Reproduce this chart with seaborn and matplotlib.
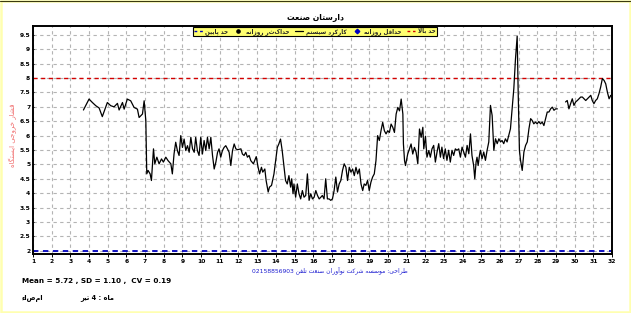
import re
import numpy as np
import pandas as pd
import matplotlib
matplotlib.use("Agg")
import matplotlib.pyplot as plt
from matplotlib.lines import Line2D
from matplotlib.ticker import MultipleLocator, FuncFormatter
import seaborn as sns

# ---------------- data ----------------
days_a = [3.70, 4.00, 4.18, 4.36, 4.54, 4.71, 4.89, 4.98, 5.16, 5.34, 5.52, 5.61, 5.79, 5.88,
          6.05, 6.23, 6.41, 6.59, 6.68, 6.86, 6.95, 7.04, 7.09, 7.16, 7.27, 7.34, 7.45, 7.52,
          7.63, 7.75, 7.88, 7.98, 8.11, 8.23, 8.38, 8.46, 8.55, 8.64, 8.73, 8.82, 8.91, 9.00,
          9.09, 9.18, 9.27, 9.36, 9.45, 9.54, 9.63, 9.71, 9.80, 9.89, 9.98, 10.07, 10.16,
          10.25, 10.34, 10.43, 10.52, 10.61, 10.70, 10.79, 10.88, 10.96, 11.05, 11.14, 11.23,
          11.32, 11.41, 11.50, 11.59, 11.68, 11.77, 11.86, 11.95, 12.13, 12.21, 12.30, 12.39,
          12.48, 12.57, 12.66, 12.80, 12.95, 13.05, 13.13, 13.23, 13.30, 13.41, 13.48, 13.59,
          13.66, 13.77, 13.90, 13.99, 14.08, 14.16, 14.25, 14.34, 14.43, 14.52, 14.61, 14.70,
          14.79, 14.85, 14.92, 14.97, 15.06, 15.15, 15.24, 15.33, 15.42, 15.51, 15.60, 15.69,
          15.78, 15.87, 15.96, 16.05, 16.14, 16.23, 16.32, 16.41, 16.49, 16.58, 16.67, 16.76,
          16.85, 16.94, 17.03, 17.12, 17.21, 17.30, 17.39, 17.48, 17.57, 17.66, 17.75, 17.84,
          17.93, 18.02, 18.11, 18.20, 18.29, 18.38, 18.47, 18.56, 18.65, 18.73, 18.82, 18.91,
          19.00, 19.09, 19.18, 19.27, 19.36, 19.45, 19.54, 19.63, 19.72, 19.81, 19.90, 19.99,
          20.08, 20.17, 20.26, 20.35, 20.44, 20.53, 20.62, 20.71, 20.80, 20.83, 20.89, 20.94,
          21.06, 21.15, 21.24, 21.33, 21.42, 21.51, 21.60, 21.69, 21.78, 21.87, 21.92, 22.01,
          22.09, 22.19, 22.27, 22.36, 22.45, 22.54, 22.63, 22.72, 22.81, 22.89, 22.98, 23.07,
          23.16, 23.25, 23.34, 23.43, 23.52, 23.61, 23.70, 23.79, 23.88, 23.97, 24.06, 24.15,
          24.24, 24.33, 24.42, 24.50, 24.59, 24.65, 24.72, 24.77, 24.83, 24.90, 24.95, 25.04,
          25.13, 25.22, 25.31, 25.40, 25.49, 25.58, 25.67, 25.76, 25.85, 25.94, 26.03, 26.11,
          26.20, 26.29, 26.38, 26.47, 26.56, 26.65, 26.74, 26.83, 26.92, 26.97, 27.04, 27.10,
          27.19, 27.28, 27.37, 27.46, 27.55, 27.64, 27.72, 27.81, 27.90, 27.99, 28.08, 28.17,
          28.26, 28.35, 28.44, 28.53, 28.62, 28.71, 28.80, 28.89, 28.98, 29.07]
vals_a = [6.89, 7.27, 7.15, 7.04, 6.96, 6.66, 6.98, 7.15, 7.04, 7.00, 7.12, 6.89, 7.15, 6.92,
          7.27, 7.21, 6.98, 6.92, 6.63, 6.75, 7.21, 6.52, 4.67, 4.79, 4.67, 4.44, 5.54, 5.02,
          5.25, 5.02, 5.19, 5.08, 5.25, 5.13, 5.02, 4.67, 5.36, 5.77, 5.48, 5.31, 6.00, 5.59,
          5.88, 5.48, 5.65, 5.42, 5.94, 5.54, 5.42, 5.94, 5.48, 5.31, 5.94, 5.36, 5.83,
          5.48, 5.94, 5.54, 5.94, 5.31, 4.84, 5.08, 5.42, 5.54, 5.25, 5.48, 5.59,
          5.65, 5.54, 5.42, 4.96, 5.48, 5.71, 5.54, 5.51, 5.54, 5.36, 5.31, 5.42,
          5.25, 5.31, 5.13, 5.02, 5.27, 4.90, 4.67, 4.90, 4.73, 4.84, 4.44, 4.04,
          4.21, 4.27, 4.67, 5.13, 5.59, 5.71, 5.88, 5.48, 4.96, 4.44, 4.32, 4.61,
          4.21, 4.50, 3.98, 4.32, 3.86, 4.32, 3.98, 3.80, 4.09, 3.86, 3.92, 4.67,
          3.75, 3.98, 3.80, 3.86, 4.09, 3.92, 3.80, 3.86, 3.92, 3.80, 4.50, 3.80,
          3.80, 3.75, 3.80, 4.09, 4.56, 4.04, 4.32, 4.44, 4.79, 5.02, 4.90, 4.44,
          4.90, 4.73, 4.84, 4.61, 4.90, 4.67, 4.84, 4.32, 4.09, 4.32, 4.27, 4.44,
          4.09, 4.38, 4.56, 4.67, 5.13, 6.00, 5.83, 6.17, 6.46, 6.17, 6.06, 6.17,
          6.11, 6.40, 6.29, 6.11, 6.75, 6.98, 6.86, 7.27, 6.75, 5.71, 5.13, 4.96,
          5.36, 5.54, 5.71, 5.36, 5.59, 5.42, 5.02, 6.23, 5.94, 6.29, 5.54, 5.98,
          5.25, 5.48, 5.25, 5.54, 5.66, 5.08, 5.43, 5.72, 5.25, 5.60, 5.20, 5.54,
          5.14, 5.49, 5.08, 5.49, 5.31, 5.54, 5.49, 5.54, 5.25, 5.60, 5.43, 5.25,
          5.66, 5.37, 6.06, 5.31, 4.96, 4.50, 5.08, 5.25, 4.96, 5.31, 5.49, 5.20,
          5.43, 5.14, 5.49, 5.78, 7.05, 6.70, 5.49, 5.89, 5.72, 5.89, 5.78, 5.83,
          5.72, 5.89, 5.78, 6.01, 6.24, 6.93, 7.63, 8.67, 9.46, 7.63, 5.49, 5.14,
          4.79, 5.43, 5.66, 5.78, 6.24, 6.59, 6.53, 6.41, 6.47, 6.41, 6.49, 6.41,
          6.47, 6.35, 6.59, 6.82, 6.82, 6.93, 6.99, 6.88, 6.93, 6.93]
days_b = [29.51, 29.60, 29.69, 29.78, 29.87, 29.96, 30.05, 30.14, 30.23, 30.32, 30.41, 30.50,
          30.59, 30.68, 30.77, 30.86, 30.94, 31.03, 31.12, 31.21, 31.30, 31.39, 31.48, 31.57,
          31.66, 31.75, 31.84, 31.93]
vals_b = [7.17, 7.22, 6.93, 7.11, 7.28, 7.05, 7.17, 7.22, 7.28, 7.34, 7.34, 7.28,
          7.22, 7.28, 7.34, 7.40, 7.22, 7.11, 7.22, 7.28, 7.46, 7.69, 7.98, 7.92,
          7.80, 7.51, 7.28, 7.40]
upper_limit = 8.0
lower_limit = 2.0
x_ticks = list(range(1, 33))
y_ticks = [2, 2.5, 3, 3.5, 4, 4.5, 5, 5.5, 6, 6.5, 7, 7.5, 8, 8.5, 9, 9.5]

title_txt = "دارستان صنعت"
legend_labels = ["حد پایین", "حداکثر روزانه", "کارکرد سیستم", "حداقل روزانه", "حد بالا"]
ylabel_txt = "فشار خروجی ایستگاه"
credit_txt = "طراحی: موسسه شرکت نوآوران صنعت تلفن 02158856903"
stats_txt = "Mean = 5.72 , SD = 1.10 ,  CV = 0.19"
sign_txt = "امضاء"
month_txt = "ماه : 4 تیر"

# ---------------- minimal Persian shaping (presentation forms) ----------------
FORMS = {
    'ا': (0xFE8D, 0xFE8E, None, None), 'آ': (0xFE81, 0xFE82, None, None),
    'ب': (0xFE8F, 0xFE90, 0xFE91, 0xFE92), 'پ': (0xFB56, 0xFB57, 0xFB58, 0xFB59),
    'ت': (0xFE95, 0xFE96, 0xFE97, 0xFE98), 'ج': (0xFE9D, 0xFE9E, 0xFE9F, 0xFEA0),
    'ح': (0xFEA1, 0xFEA2, 0xFEA3, 0xFEA4), 'خ': (0xFEA5, 0xFEA6, 0xFEA7, 0xFEA8),
    'د': (0xFEA9, 0xFEAA, None, None), 'ر': (0xFEAD, 0xFEAE, None, None),
    'ز': (0xFEAF, 0xFEB0, None, None), 'س': (0xFEB1, 0xFEB2, 0xFEB3, 0xFEB4),
    'ش': (0xFEB5, 0xFEB6, 0xFEB7, 0xFEB8), 'ص': (0xFEB9, 0xFEBA, 0xFEBB, 0xFEBC),
    'ط': (0xFEC1, 0xFEC2, 0xFEC3, 0xFEC4), 'ع': (0xFEC9, 0xFECA, 0xFECB, 0xFECC),
    'ف': (0xFED1, 0xFED2, 0xFED3, 0xFED4), 'ق': (0xFED5, 0xFED6, 0xFED7, 0xFED8),
    'ک': (0xFB8E, 0xFB8F, 0xFB90, 0xFB91), 'گ': (0xFB92, 0xFB93, 0xFB94, 0xFB95),
    'ل': (0xFEDD, 0xFEDE, 0xFEDF, 0xFEE0), 'م': (0xFEE1, 0xFEE2, 0xFEE3, 0xFEE4),
    'ن': (0xFEE5, 0xFEE6, 0xFEE7, 0xFEE8), 'و': (0xFEED, 0xFEEE, None, None),
    'ه': (0xFEE9, 0xFEEA, 0xFEEB, 0xFEEC), 'ی': (0xFBFC, 0xFBFD, 0xFBFE, 0xFBFF),
    'ء': (0xFE80, 0xFE80, None, None),
}


def _dual(c):
    return c in FORMS and FORMS[c][2] is not None


def _joins(c):
    return c in FORMS and c != 'ء'


def shape(s):
    out = []
    i = 0
    n = len(s)
    while i < n:
        c = s[i]
        if c not in FORMS:
            out.append(c)
            i += 1
            continue
        prev = s[i - 1] if i > 0 else ''
        jp = _dual(prev) and _joins(c)
        nxt = s[i + 1] if i + 1 < n else ''
        if c == 'ل' and nxt in ('ا', 'آ'):
            if nxt == 'ا':
                out.append(chr(0xFEFC if jp else 0xFEFB))
            else:
                out.append(chr(0xFEF6 if jp else 0xFEF5))
            i += 2
            continue
        jn = _dual(c) and _joins(nxt)
        iso, fin, ini, med = FORMS[c]
        if jp and jn:
            code = med
        elif jp:
            code = fin
        elif jn:
            code = ini
        else:
            code = iso
        out.append(chr(code))
        i += 1
    return ''.join(out)


def fa(s):
    sh = shape(s)
    toks = re.findall(r'[0-9A-Za-z.]+|[^0-9A-Za-z.]+', sh)
    return ''.join(t if re.match(r'[0-9A-Za-z.]', t) else t[::-1] for t in reversed(toks))


# ---------------- plotting ----------------
sns.set_theme(style="white")
plt.rcParams['font.family'] = ['DejaVu Sans']

df_a = pd.DataFrame({"day": days_a, "value": vals_a})
df_b = pd.DataFrame({"day": days_b, "value": vals_b})

fig = plt.figure(figsize=(6.31, 3.13), dpi=100)
fig.patch.set_facecolor("white")
ax = fig.add_axes([0.0523, 0.1875, 0.9177, 0.7295])
ax.set_facecolor("white")

ax.grid(True, which="major", color="#b4b4b4", linestyle=(0, (3, 3)), linewidth=0.8)
ax.set_axisbelow(True)

ax.axhline(upper_limit, color="#d40000", linestyle=(0, (3, 2.5)), linewidth=1.0, zorder=2)
ax.axhline(lower_limit, color="#0000c0", linestyle=(0, (3, 2.5)), linewidth=1.3, zorder=2)

sns.lineplot(data=df_a, x="day", y="value", ax=ax, color="black", linewidth=0.9,
             estimator=None, sort=False, zorder=3)
sns.lineplot(data=df_b, x="day", y="value", ax=ax, color="black", linewidth=0.9,
             estimator=None, sort=False, zorder=3)

ax.set_xlim(1, 32)
ax.set_ylim(1.875, 9.81)
ax.set_xticks(x_ticks)
ax.set_xticklabels([str(t) for t in x_ticks])
ax.xaxis.set_minor_locator(MultipleLocator(0.5))
ax.set_yticks(y_ticks)
ax.yaxis.set_major_formatter(FuncFormatter(lambda v, p: f"{v:g}"))
ax.tick_params(axis="both", which="major", labelsize=4.3, width=0.7, colors="black")
ax.tick_params(axis="x", which="major", length=2.5, direction="out", pad=1.2)
ax.tick_params(axis="y", which="major", length=2, direction="inout", pad=1.0)
ax.tick_params(axis="x", which="minor", length=1.5, width=0.5, direction="out")
ax.tick_params(left=True, bottom=True)
for lab in ax.get_xticklabels() + ax.get_yticklabels():
    lab.set_fontweight("bold")
ax.set_xlabel("")
ax.set_ylabel("")
for sp in ax.spines.values():
    sp.set_color("black")
    sp.set_linewidth(1.4)
    sp.set_visible(True)

handles = [
    Line2D([], [], color="#0000c0", linestyle=(0, (2, 2)), linewidth=1.0),
    Line2D([], [], color="black", marker="o", linestyle="none", markersize=2.3),
    Line2D([], [], color="black", linestyle="-", linewidth=0.9),
    Line2D([], [], color="#0000c0", marker="D", linestyle="none", markersize=2.3),
    Line2D([], [], color="#d40000", linestyle=(0, (2, 2)), linewidth=1.0),
]
leg = ax.legend(handles, [fa(t) for t in legend_labels], ncol=5, loc="upper center",
                bbox_to_anchor=(0.487, 1.0), fontsize=4.1, frameon=True, fancybox=False,
                framealpha=1, facecolor="#ffff70", edgecolor="black", shadow=False,
                handlelength=1.5, handletextpad=0.5, columnspacing=1.0,
                borderpad=0.2, borderaxespad=0.1)
leg.get_frame().set_linewidth(0.8)
for t in leg.get_texts():
    t.set_fontweight("bold")
leg.set_zorder(5)

fig.text(315 / 631, 1 - 17 / 313, fa(title_txt), ha="center", va="center",
         fontsize=5.5, fontweight="bold", color="black")
fig.text(13 / 631, 1 - 135 / 313, fa(ylabel_txt), ha="center", va="center",
         rotation=90, fontsize=5, color="#f06a6a")
fig.text(330 / 631, 1 - 270 / 313, fa(credit_txt), ha="center", va="center",
         fontsize=4.3, color="#1c1cd0")
fig.text(22 / 631, 1 - 281 / 313, stats_txt, ha="left", va="center",
         fontsize=5.2, fontweight="bold", color="black")
fig.text(22 / 631, 1 - 298 / 313, fa(sign_txt), ha="left", va="center",
         fontsize=4.8, fontweight="bold", color="black")
fig.text(80 / 631, 1 - 298 / 313, fa(month_txt), ha="left", va="center",
         fontsize=4.8, fontweight="bold", color="black")

# figure border
fig.add_artist(plt.Rectangle((0.0015, 0.003), 0.997, 0.994, transform=fig.transFigure,
                             fill=False, edgecolor="#ffffb0", linewidth=1.8))
fig.add_artist(Line2D([0, 1], [0.998, 0.998], transform=fig.transFigure,
                      color="#3a3a10", linewidth=0.8))

fig.savefig("out.png", dpi=100, facecolor="white")
